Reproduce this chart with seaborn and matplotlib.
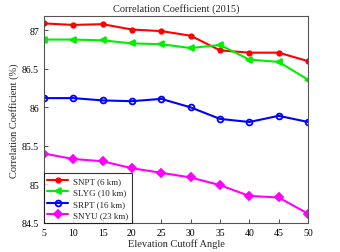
import matplotlib
matplotlib.use('Agg')
import matplotlib.pyplot as plt
import seaborn as sns

angles = [5, 10, 15, 20, 25, 30, 35, 40, 45, 50]
snpt = [87.09, 87.07, 87.08, 87.01, 86.99, 86.93, 86.74, 86.71, 86.71, 86.60]
slyg = [86.88, 86.88, 86.87, 86.83, 86.82, 86.77, 86.81, 86.62, 86.59, 86.36]
srpt = [86.12, 86.12, 86.09, 86.08, 86.11, 86.00, 85.85, 85.81, 85.89, 85.81]
snyu = [85.40, 85.33, 85.30, 85.21, 85.15, 85.09, 84.99, 84.85, 84.83, 84.62]
labels = ['SNPT (6 km)', 'SLYG (10 km)', 'SRPT (16 km)', 'SNYU (23 km)']

sns.set_style('ticks')
plt.rcParams['font.family'] = ['Liberation Serif', 'DejaVu Serif']
plt.rcParams['xtick.direction'] = 'in'
plt.rcParams['ytick.direction'] = 'in'

fig = plt.figure(figsize=(3.4, 2.53), dpi=100)
ax = fig.add_axes([0.129, 0.115, 0.777, 0.816])

styles = [
    (snpt, '#ff0000', 'o', 3.2, 'full'),
    (slyg, '#00ee00', '<', 4.5, 'full'),
    (srpt, '#0000ff', 'o', 4.2, 'none'),
    (snyu, '#ff00ff', 'D', 3.6, 'full'),
]
for (vals, col, mk, ms, fill), lab in zip(styles, labels):
    sns.lineplot(x=angles, y=vals, ax=ax, color=col, marker=mk, markersize=ms,
                 fillstyle=fill, markeredgewidth=1.3, markeredgecolor=col,
                 linewidth=1.5, label=lab)

ax.set_xlim(5, 50)
ax.set_ylim(84.5, 87.18)
ax.set_xticks(range(5, 51, 5))
ax.set_yticks([84.5, 85, 85.5, 86, 86.5, 87])
ax.set_yticklabels(['84.5', '85', '85.5', '86', '86.5', '87'])
ax.tick_params(labelsize=7, length=3, width=0.6, colors='#333333', labelcolor='black')
for s in ax.spines.values():
    s.set_color('#555555')
    s.set_linewidth(0.8)
ax.set_xlabel('Elevation Cutoff Angle', fontsize=7.5, labelpad=1)
ax.set_ylabel('Correlation Coefficient (%)', fontsize=7.5, labelpad=2)
ax.set_title('Correlation Coefficient (2015)', fontsize=7.5, pad=4)

leg = ax.legend(loc='lower left', fontsize=6.5, frameon=True, fancybox=False,
                borderaxespad=0, handlelength=2.3, handletextpad=0.5,
                labelspacing=0.35, borderpad=0.4)
leg.get_frame().set_edgecolor('black')
leg.get_frame().set_linewidth(0.8)

plt.savefig('out.png', dpi=100)
plt.close()
